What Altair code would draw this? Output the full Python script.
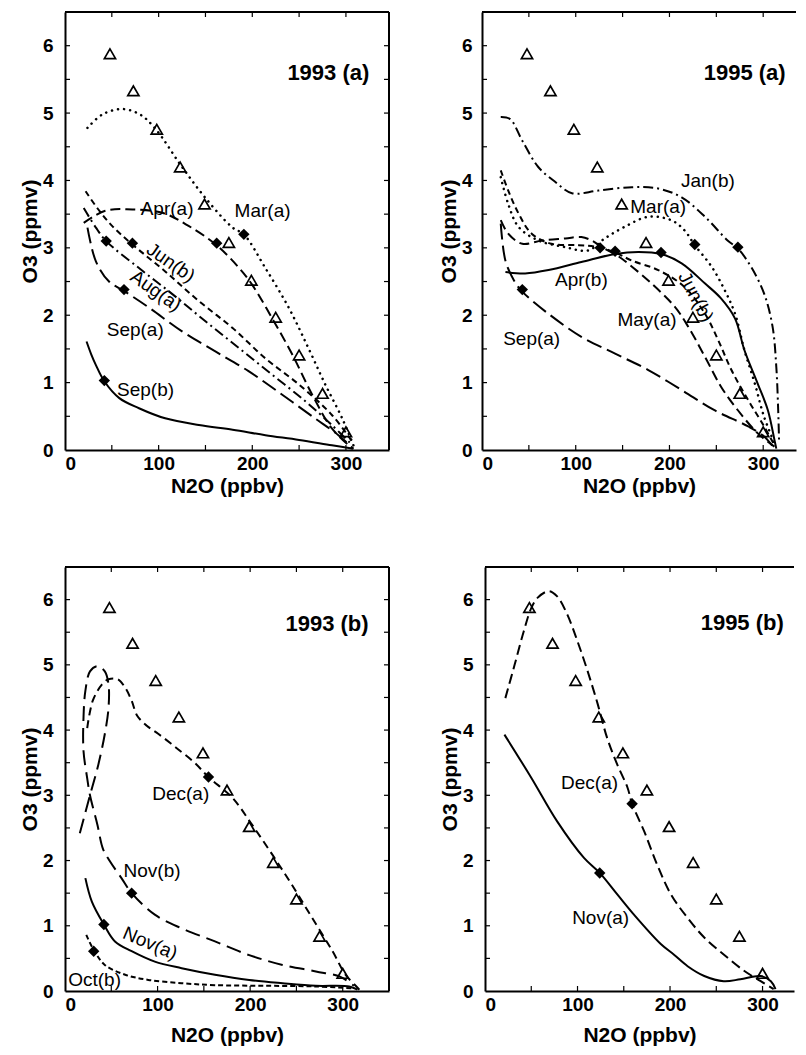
import altair as alt
import pandas as pd

# ---------------- data ----------------
X_TICKS = [0, 100, 200, 300]
Y_TICKS = [0, 1, 2, 3, 4, 5, 6]
X_MINOR = [50, 100, 150, 200, 250, 300]
Y_MINOR = [0.5, 1, 1.5, 2, 2.5, 3, 3.5, 4, 4.5, 5, 5.5, 6]

# reference profile (triangles), same in every panel
TRI_N2O = [48, 73, 98, 123, 149, 175, 199, 225, 250, 275, 300]
TRI_O3 = [5.88, 5.33, 4.76, 4.20, 3.65, 3.08, 2.52, 1.97, 1.41, 0.84, 0.27]

# ---- 1993 (a)
MAR93A_X = [24, 40, 61, 80, 97, 123, 150, 179, 191, 214, 239, 260, 278, 296, 308]
MAR93A_Y = [4.78, 4.98, 5.06, 4.98, 4.76, 4.24, 3.74, 3.30, 3.20, 2.70, 2.11, 1.51, 0.97, 0.47, 0.07]
APR93A_X = [20, 43, 72, 104, 129, 161, 186, 200, 221, 243, 264, 285, 307]
APR93A_Y = [3.37, 3.55, 3.57, 3.52, 3.35, 3.05, 2.70, 2.45, 1.96, 1.41, 0.82, 0.32, 0.02]
JUN93B_X = [22, 35, 50, 72, 107, 143, 179, 214, 250, 285, 307]
JUN93B_Y = [3.84, 3.58, 3.33, 3.05, 2.65, 2.21, 1.81, 1.36, 0.97, 0.52, 0.12]
AUG93A_X = [20, 33, 44, 79, 115, 150, 186, 221, 257, 285, 307]
AUG93A_Y = [3.59, 3.30, 3.10, 2.70, 2.31, 1.91, 1.51, 1.12, 0.72, 0.37, 0.07]
SEP93A_X = [24, 33, 47, 63, 90, 125, 161, 196, 232, 267, 292, 308]
SEP93A_Y = [3.30, 2.80, 2.50, 2.36, 2.11, 1.76, 1.46, 1.17, 0.82, 0.47, 0.22, 0.02]
SEP93B_X = [23, 28, 33, 42, 58, 79, 107, 143, 179, 214, 250, 285, 308]
SEP93B_Y = [1.61, 1.42, 1.26, 1.02, 0.77, 0.62, 0.47, 0.37, 0.30, 0.22, 0.15, 0.07, 0.02]
DIA93A_X = [191, 162, 72, 44, 63, 42]
DIA93A_Y = [3.20, 3.07, 3.07, 3.10, 2.38, 1.03]
LAB93A_T = ["Apr(a)", "Mar(a)", "Jun(b)", "Aug(a)", "Sep(a)", "Sep(b)"]
LAB93A_X = [109, 211, 113, 97, 75, 86]
LAB93A_Y = [3.57, 3.55, 2.78, 2.36, 1.78, 0.89]
LAB93A_A = [0, 0, 35, 35, 0, 0]

# ---- 1995 (a)
JAN95B_X = [20, 30, 43, 60, 78, 96, 124, 160, 188, 213, 238, 262, 273, 287, 301, 310, 314, 316, 317]
JAN95B_Y = [4.94, 4.91, 4.59, 4.20, 3.98, 3.81, 3.85, 3.90, 3.88, 3.75, 3.46, 3.11, 2.99, 2.72, 2.32, 1.83, 1.23, 0.59, 0.10]
MAR95A_X = [20, 28, 39, 60, 89, 113, 131, 152, 177, 202, 216, 227, 245, 259, 270, 280, 291, 301, 312]
MAR95A_Y = [4.05, 3.65, 3.31, 3.11, 3.01, 2.96, 3.14, 3.31, 3.46, 3.41, 3.26, 3.04, 2.72, 2.37, 2.02, 1.48, 0.99, 0.49, 0.10]
JUN95B_X = [20, 28, 39, 53, 74, 103, 124, 142, 160, 188, 216, 238, 252, 266, 284, 301, 312]
JUN95B_Y = [4.15, 3.85, 3.51, 3.21, 3.06, 3.04, 3.01, 2.93, 2.81, 2.67, 2.42, 2.02, 1.63, 1.19, 0.74, 0.35, 0.07]
MAY95A_X = [20, 28, 43, 64, 89, 106, 117, 128, 145, 160, 181, 206, 220, 238, 255, 273, 294, 312]
MAY95A_Y = [3.41, 3.21, 3.06, 3.11, 3.14, 3.16, 3.11, 3.01, 2.88, 2.72, 2.47, 2.12, 1.83, 1.38, 0.94, 0.59, 0.25, 0.05]
APR95B_X = [25, 46, 71, 106, 142, 167, 191, 213, 238, 255, 270, 280, 294, 305, 312, 314]
APR95B_Y = [2.64, 2.62, 2.67, 2.79, 2.91, 2.94, 2.91, 2.77, 2.47, 2.25, 1.95, 1.48, 0.99, 0.59, 0.15, 0.02]
SEP95A_X = [20, 25, 34, 43, 71, 106, 142, 177, 213, 248, 284, 301, 312]
SEP95A_Y = [3.36, 2.81, 2.52, 2.35, 2.02, 1.68, 1.43, 1.19, 0.89, 0.59, 0.35, 0.20, 0.02]
DIA95A_X = [273, 227, 142, 126, 191, 43]
DIA95A_Y = [3.01, 3.05, 2.95, 3.00, 2.93, 2.38]
LAB95A_T = ["Jan(b)", "Mar(a)", "Apr(b)", "Jun(b)", "May(a)", "Sep(a)"]
LAB95A_X = [241, 188, 106, 228, 176, 53]
LAB95A_Y = [3.99, 3.60, 2.52, 2.27, 1.93, 1.65]
LAB95A_A = [0, 0, 0, 62, 0, 0]

# ---- 1993 (b)
NOV93B_X = [16, 27, 36, 43, 47, 47, 43, 35, 27, 22, 20, 20, 24, 27, 35, 41, 48, 61, 72, 97, 126, 162, 199, 235, 271, 297, 312]
NOV93B_Y = [2.42, 3.00, 3.47, 3.94, 4.34, 4.70, 4.90, 4.98, 4.90, 4.60, 4.19, 3.68, 3.26, 3.00, 2.55, 2.18, 2.00, 1.73, 1.50, 1.17, 0.96, 0.76, 0.55, 0.40, 0.30, 0.22, 0.08]
DEC93A_X = [24, 30, 40, 47, 57, 65, 72, 78, 88, 101, 120, 140, 155, 181, 202, 224, 245, 267, 289, 303, 314, 318]
DEC93A_Y = [4.03, 4.45, 4.70, 4.78, 4.78, 4.65, 4.45, 4.22, 4.07, 3.94, 3.73, 3.50, 3.28, 2.96, 2.55, 2.09, 1.63, 1.12, 0.61, 0.25, 0.08, 0.02]
NOV93A_X = [22, 29, 42, 54, 72, 97, 126, 162, 199, 235, 271, 307, 316]
NOV93A_Y = [1.73, 1.37, 1.02, 0.76, 0.61, 0.45, 0.35, 0.25, 0.17, 0.12, 0.08, 0.07, 0.02]
OCT93B_X = [23, 31, 43, 65, 90, 126, 162, 217, 271, 310]
OCT93B_Y = [0.86, 0.63, 0.40, 0.25, 0.17, 0.12, 0.09, 0.08, 0.07, 0.04]
DIA93B_X = [155, 72, 42, 31]
DIA93B_Y = [3.28, 1.50, 1.02, 0.61]
LAB93B_T = ["Dec(a)", "Nov(b)", "Nov(a)", "Oct(b)"]
LAB93B_X = [125, 94, 92, 32]
LAB93B_Y = [3.02, 1.84, 0.73, 0.17]
LAB93B_A = [0, 0, 23, 0]

# ---- 1995 (b)
DEC95A_X = [22, 32, 42, 50, 57, 69, 78, 89, 100, 111, 122, 132, 143, 154, 159, 172, 186, 201, 219, 237, 258, 280, 298, 312]
DEC95A_Y = [4.49, 5.00, 5.52, 5.87, 6.03, 6.13, 6.05, 5.77, 5.36, 4.90, 4.39, 3.88, 3.47, 3.12, 2.87, 2.45, 1.94, 1.48, 1.12, 0.82, 0.56, 0.31, 0.15, 0.03]
NOV95A_X = [21, 50, 78, 107, 124, 143, 161, 190, 204, 219, 237, 258, 276, 298, 309, 314]
NOV95A_Y = [3.93, 3.27, 2.60, 2.04, 1.81, 1.48, 1.17, 0.72, 0.56, 0.38, 0.23, 0.15, 0.18, 0.23, 0.15, 0.03]
DIA95B_X = [159, 124]
DIA95B_Y = [2.87, 1.81]
LAB95B_T = ["Dec(a)", "Nov(a)"]
LAB95B_X = [113, 125]
LAB95B_Y = [3.19, 1.12]
LAB95B_A = [0, 0]

# ---------------- styles ----------------
FONT = "Liberation Sans"
DOT = [0.1, 6]
SHORT = [6, 4]
MED = [10, 5]
LONG = [16, 6]
DASHDOT = [10, 4, 2, 4]


def panel(curves, dia_x, dia_y, lab_t, lab_x, lab_y, lab_a, title, title_x, title_y,
          W, H, xmax, ylab_pad, x_title_pad, right_border):
    xs = alt.Scale(domain=[0, xmax], nice=False, zero=False)
    ys = alt.Scale(domain=[0, 6.5], nice=False, zero=False)
    xax = alt.Axis(title="N2O (ppbv)", values=X_TICKS, labelPadding=4, titlePadding=x_title_pad)
    yax = alt.Axis(title="O3 (ppmv)", values=Y_TICKS, labelPadding=ylab_pad, titlePadding=2)
    X = lambda f: alt.X(f, type="quantitative", scale=xs, axis=xax)
    Y = lambda f: alt.Y(f, type="quantitative", scale=ys, axis=yax)

    layers = []
    for xs_, ys_, dash in curves:
        df = pd.DataFrame({"n2o": xs_, "o3": ys_, "k": list(range(len(xs_)))})
        kw = dict(color="black", strokeWidth=2, interpolate="catmull-rom", clip=True)
        if dash is not None:
            kw["strokeDash"] = dash
        if dash is DOT:
            kw["strokeCap"] = "round"
            kw["strokeWidth"] = 2.5
        layers.append(alt.Chart(df).mark_line(**kw).encode(
            x=X("n2o"), y=Y("o3"), order=alt.Order("k:Q")))

    tri = pd.DataFrame({"n2o": TRI_N2O, "o3": TRI_O3})
    layers.append(alt.Chart(tri).mark_point(shape="triangle-up", filled=False, color="black",
                                            strokeWidth=1.7, size=125, opacity=1).encode(
        x=X("n2o"), y=Y("o3")))

    dia = pd.DataFrame({"n2o": dia_x, "o3": dia_y})
    layers.append(alt.Chart(dia).mark_point(shape="diamond", filled=True, color="black",
                                            size=130, opacity=1).encode(
        x=X("n2o"), y=Y("o3")))

    lab = pd.DataFrame({"t": lab_t, "n2o": lab_x, "o3": lab_y, "a": lab_a})
    layers.append(alt.Chart(lab).mark_text(font=FONT, fontSize=19, color="black",
                                           align="center", baseline="middle").encode(
        x=X("n2o"), y=Y("o3"), text="t:N", angle=alt.Angle("a:Q", scale=None)))

    ttl = pd.DataFrame({"t": [title], "n2o": [title_x], "o3": [title_y]})
    layers.append(alt.Chart(ttl).mark_text(font=FONT, fontSize=22, fontWeight="bold",
                                           color="black", align="right", baseline="middle").encode(
        x=X("n2o"), y=Y("o3"), text="t:N"))

    # frame: top (and right) borders
    layers.append(alt.Chart(ttl).mark_rule(color="black", strokeWidth=2).encode(
        x=alt.value(0), x2=alt.value(W), y=alt.value(0)))
    if right_border:
        layers.append(alt.Chart(ttl).mark_rule(color="black", strokeWidth=2).encode(
            x=alt.value(W), y=alt.value(0), y2=alt.value(H)))

    # inward minor ticks
    ym = pd.DataFrame({"o3": Y_MINOR})
    xm = pd.DataFrame({"n2o": X_MINOR})
    layers.append(alt.Chart(ym).mark_rule(color="black", strokeWidth=1.2).encode(
        y=Y("o3"), x=alt.value(0), x2=alt.value(5)))
    layers.append(alt.Chart(xm).mark_rule(color="black", strokeWidth=1.2).encode(
        x=X("n2o"), y=alt.value(H), y2=alt.value(H - 5)))
    layers.append(alt.Chart(xm).mark_rule(color="black", strokeWidth=1.2).encode(
        x=X("n2o"), y=alt.value(0), y2=alt.value(5)))
    if right_border:
        layers.append(alt.Chart(ym).mark_rule(color="black", strokeWidth=1.2).encode(
            y=Y("o3"), x=alt.value(W), x2=alt.value(W - 5)))

    return alt.layer(*layers).properties(width=W, height=H)


p1 = panel([(MAR93A_X, MAR93A_Y, DOT), (APR93A_X, APR93A_Y, MED), (JUN93B_X, JUN93B_Y, SHORT),
            (AUG93A_X, AUG93A_Y, DASHDOT), (SEP93A_X, SEP93A_Y, LONG), (SEP93B_X, SEP93B_Y, None)],
           DIA93A_X, DIA93A_Y, LAB93A_T, LAB93A_X, LAB93A_Y, LAB93A_A,
           "1993 (a)", 325, 5.6, 324, 438, 346, 12, 2, True)
p2 = panel([(JAN95B_X, JAN95B_Y, DASHDOT), (MAR95A_X, MAR95A_Y, DOT), (JUN95B_X, JUN95B_Y, SHORT),
            (MAY95A_X, MAY95A_Y, MED), (APR95B_X, APR95B_Y, None), (SEP95A_X, SEP95A_Y, LONG)],
           DIA95A_X, DIA95A_Y, LAB95A_T, LAB95A_X, LAB95A_Y, LAB95A_A,
           "1995 (a)", 324, 5.6, 314, 438, 335, 10, 2, False)
p3 = panel([(NOV93B_X, NOV93B_Y, [15, 7]), (DEC93A_X, DEC93A_Y, [8, 5]),
            (NOV93A_X, NOV93A_Y, None), (OCT93B_X, OCT93B_Y, [5, 3])],
           DIA93B_X, DIA93B_Y, LAB93B_T, LAB93B_X, LAB93B_Y, LAB93B_A,
           "1993 (b)", 328, 5.63, 324, 424, 350, 12, 10, True)
p4 = panel([(DEC95A_X, DEC95A_Y, [10, 5]), (NOV95A_X, NOV95A_Y, None)],
           DIA95B_X, DIA95B_Y, LAB95B_T, LAB95B_X, LAB95B_Y, LAB95B_A,
           "1995 (b)", 323, 5.64, 309, 424, 334, 12, 10, False)

row1 = alt.hconcat(p1, p2, spacing=46)
row2 = alt.hconcat(p3, p4, spacing=47)

chart = alt.vconcat(row1, row2, spacing=68).properties(
    padding={"left": 10, "top": 2, "right": 0, "bottom": 0},
    background="white",
).configure_view(stroke="transparent").configure_axis(
    grid=False, ticks=False, domain=True, domainColor="black", domainWidth=2,
    labelFont=FONT, labelFontSize=19, labelFontWeight="bold", labelColor="black",
    titleFont=FONT, titleFontSize=21, titleFontWeight="bold", titleColor="black",
)

chart.save("out.html", embed_options={"renderer": "svg", "actions": False})
